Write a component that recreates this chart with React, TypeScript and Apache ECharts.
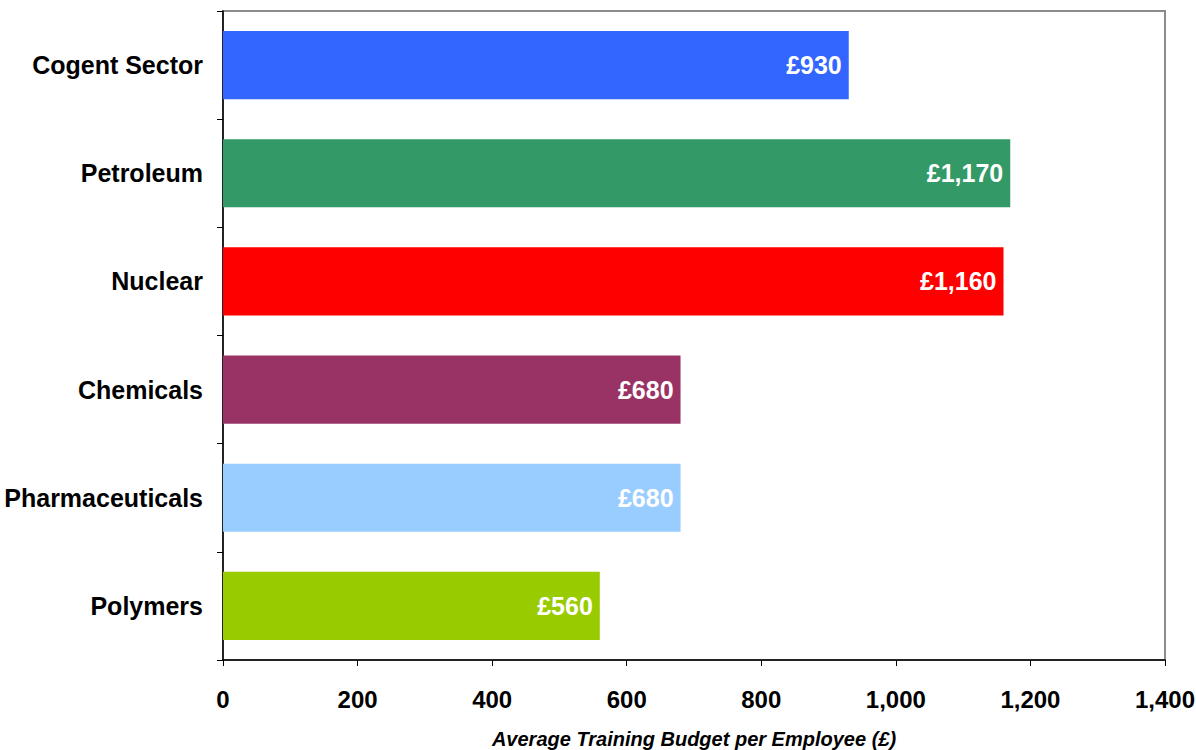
import React, { useEffect, useRef } from "react";
import * as echarts from "echarts";

const categories = ["Cogent Sector", "Petroleum", "Nuclear", "Chemicals", "Pharmaceuticals", "Polymers"];
const values = [930, 1170, 1160, 680, 680, 560];
const colors = ["#3366FF", "#339966", "#FF0000", "#993366", "#99CCFF", "#99CC00"];
const axisTitle = "Average Training Budget per Employee (£)";

export default function App() {
  const ref = useRef<HTMLDivElement>(null);
  useEffect(() => {
    const chart = echarts.init(ref.current!, undefined, { renderer: "svg" });
    const fmt = (v: number) => v.toLocaleString("en-GB");
    chart.setOption({
      animation: false,
      grid: {
        left: 223,
        right: 31,
        top: 11,
        bottom: 90,
        outerBoundsMode: "none",
        containLabel: false,
        show: true,
        borderColor: "#8c8c8c",
        borderWidth: 2,
        backgroundColor: "transparent",
      },
      xAxis: {
        type: "value",
        min: 0,
        max: 1400,
        interval: 200,
        splitLine: { show: false },
        axisLine: { show: true, lineStyle: { color: "#000", width: 1.5 } },
        axisTick: { show: true, length: 6, inside: false, lineStyle: { color: "#000" } },
        axisLabel: {
          margin: 27,
          fontFamily: "Liberation Sans",
          fontWeight: "bold",
          fontSize: 24,
          color: "#000",
          formatter: (v: number) => fmt(v),
        },
        name: axisTitle,
        nameLocation: "middle",
        nameGap: 69,
        nameTextStyle: {
          fontFamily: "Liberation Sans",
          fontWeight: "bold",
          fontStyle: "italic",
          fontSize: 20,
          color: "#000",
        },
      },
      yAxis: {
        type: "category",
        data: categories,
        inverse: true,
        axisLine: { show: true, lineStyle: { color: "#000", width: 1.5 } },
        axisTick: { show: true, length: 6, inside: false, lineStyle: { color: "#000" } },
        axisLabel: {
          margin: 20,
          fontFamily: "Liberation Sans",
          fontWeight: "bold",
          fontSize: 25,
          color: "#000",
        },
      },
      series: [
        {
          type: "bar",
          data: values.map((v, i) => ({ value: v, itemStyle: { color: colors[i] } })),
          barCategoryGap: "37%",
          label: {
            show: true,
            position: "insideRight",
            distance: 7,
            color: "#fff",
            fontFamily: "Liberation Sans",
            fontWeight: "bold",
            fontSize: 25,
            formatter: (p: any) => "£" + fmt(p.value),
          },
        },
      ],
    });
    return () => chart.dispose();
  }, []);
  return <div ref={ref} style={{ width: 1196, height: 750, position: "absolute", left: 0, top: 0 }} />;
}
